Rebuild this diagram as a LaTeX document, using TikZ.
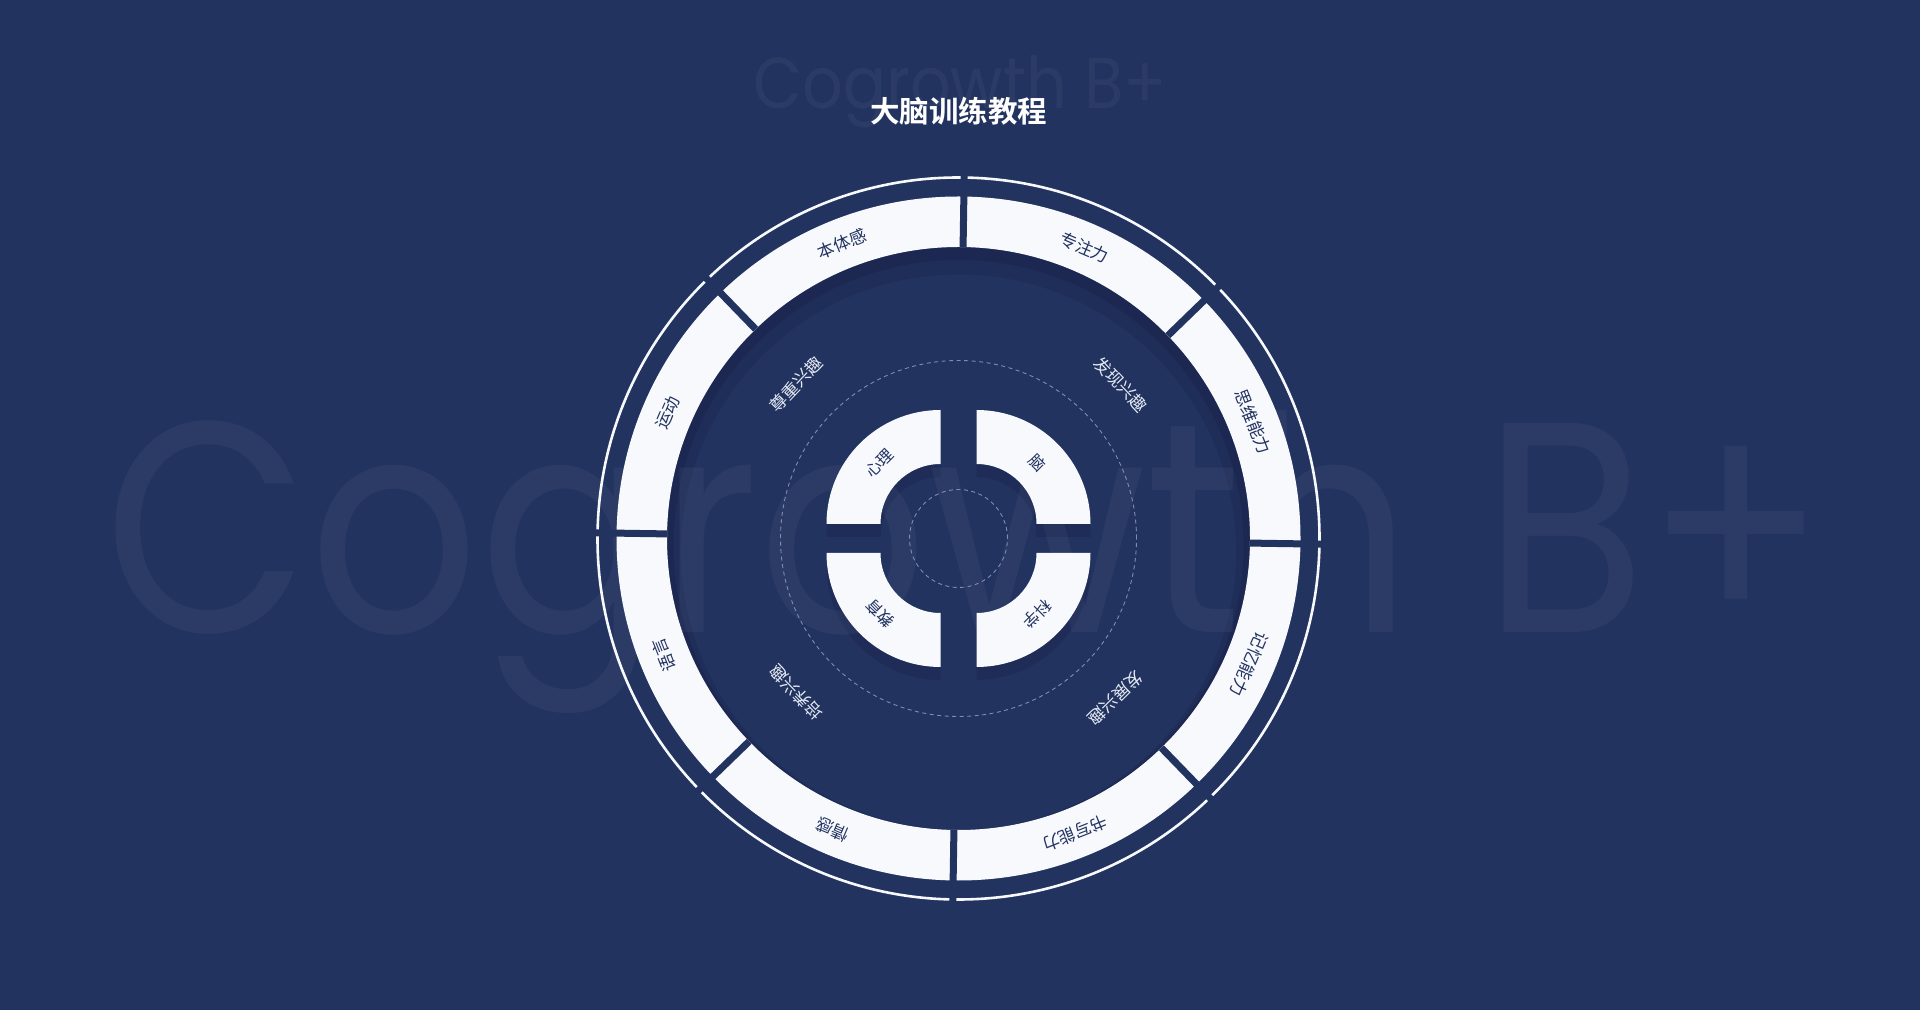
\documentclass[tikz,border=0pt]{standalone}
\usepackage{fontspec}
\setmainfont{Noto Sans CJK SC}[BoldFont=* Bold]
\newfontfamily\logofont{Poppins}

\definecolor{navy}{HTML}{223360}
\definecolor{navydark}{HTML}{1C2852}
\definecolor{navymid}{HTML}{1F2D59}
\definecolor{paperwhite}{HTML}{F7F9FD}
\definecolor{inktext}{HTML}{223360}
\definecolor{softtext}{HTML}{E4E9F3}
\definecolor{dashcol}{HTML}{7F8DB4}

\newcommand{\quarterring}{(60,0) -- (114,0) arc[start angle=0, end angle=90, radius=114] -- (0,60) arc[start angle=90, end angle=0, radius=60] -- cycle}

\begin{document}
\begin{tikzpicture}[x=1pt, y=1pt,
      seg/.style={font=\fontsize{17}{17}\selectfont, text=inktext, inner sep=0pt},
      mid/.style={font=\fontsize{17}{17}\selectfont, text=softtext, inner sep=0pt},
      core/.style={font=\fontsize{16}{16}\selectfont, text=inktext, inner sep=0pt},
      gapline/.style={draw=navy, line width=7pt},
      dashring/.style={draw=dashcol, line width=0.9pt, dash pattern=on 4pt off 3.5pt},
      quad/.style={fill=paperwhite},
      quadshadow/.style={fill=navydark, fill opacity=.6}]
    \fill[navy] (0,0) rectangle (1920,1010);
    \useasboundingbox (0,0) rectangle (1920,1010);
    \coordinate (o) at (958.5,471.5);
    \begin{scope}[shift={(o)}]
      \fill[navydark] (0,0) circle[radius=291.5];
      \fill[navymid] (0,-6.5) circle[radius=285];
      \fill[navy] (0,-13.5) circle[radius=277.5];
      \fill[quadshadow, shift={(18,1.5)}] \quarterring;
      \fill[quadshadow, shift={(-18,1.5)}, rotate=90] \quarterring;
      \fill[quadshadow, shift={(-18,-27.5)}, rotate=180] \quarterring;
      \fill[quadshadow, shift={(18,-27.5)}, rotate=270] \quarterring;
    \end{scope}
    \node[text=white, text opacity=.045, font=\logofont\fontsize{300}{300}\selectfont, anchor=base, inner sep=0pt] (bigmark) at (966,377) {\scalebox{.885}[1]{Cogrowth B+}};
    \node[text=white, text opacity=.045, font=\logofont\fontsize{72}{72}\selectfont, anchor=base, inner sep=0pt] (topmark) at (960,901) {\scalebox{.885}[1]{Cogrowth B+}};
    \node[text=white, font=\bfseries\fontsize{29.5}{29.5}\selectfont, inner sep=0pt] (title) at (958.5,898.5) {大脑训练教程};
    \begin{scope}[shift={(o)}]
      \draw[dashring] (0,0) circle[radius=178];
      \draw[dashring] (0,0) circle[radius=49];
      \fill[paperwhite, even odd rule] (0,0) circle[radius=342] (0,0) circle[radius=291.5];
      \draw[paperwhite, line width=2.6pt] (0,0) circle[radius=361];
      \draw[gapline] (89.1:291.5) -- (89.1:372); \draw[gapline] (44.1:291.5) -- (44.1:372);
      \draw[gapline] (-0.9:291.5) -- (-0.9:372); \draw[gapline] (-45.9:291.5) -- (-45.9:372);
      \draw[gapline] (-90.9:291.5) -- (-90.9:372); \draw[gapline] (-135.9:291.5) -- (-135.9:372);
      \draw[gapline] (179.1:291.5) -- (179.1:372); \draw[gapline] (134.1:291.5) -- (134.1:372);
      \fill[quad, shift={(18,14.5)}] \quarterring;
      \fill[quad, shift={(-18,14.5)}, rotate=90] \quarterring;
      \fill[quad, shift={(-18,-14.5)}, rotate=180] \quarterring;
      \fill[quad, shift={(18,-14.5)}, rotate=270] \quarterring;
      \node[seg, rotate=21.6] (bodysense) at (111.6:317) {本体感};
      \node[seg, rotate=-23.4] (focus) at (66.6:317) {专注力};
      \node[seg, rotate=-68.4] (thinking) at (21.6:317) {思维能力};
      \node[seg, rotate=-113.4] (memory) at (-23.4:317) {记忆能力};
      \node[seg, rotate=-158.4] (writing) at (-68.4:317) {书写能力};
      \node[seg, rotate=156.6] (emotion) at (-113.4:317) {情感};
      \node[seg, rotate=111.6] (language) at (-158.4:317) {语言};
      \node[seg, rotate=66.6] (motion) at (156.6:317) {运动};
      \node[mid, rotate=46.5] (respect) at (136.5:224) {尊重兴趣};
      \node[mid, rotate=-46.5] (discover) at (43.5:224) {发现兴趣};
      \node[mid, rotate=133.5] (nurture) at (-136.5:224) {培养兴趣};
      \node[mid, rotate=-135.5] (develop) at (-45.5:224) {发展兴趣};
      \node[core, rotate=45] (psych) at (-78.8,75.3) {心理};
      \node[core, rotate=-45] (brain) at (78.8,75.3) {脑};
      \node[core, rotate=135] (edu) at (-78.8,-75.3) {教育};
      \node[core, rotate=-135] (science) at (78.8,-75.3) {科学};
    \end{scope}
  \end{tikzpicture}
\end{document}
